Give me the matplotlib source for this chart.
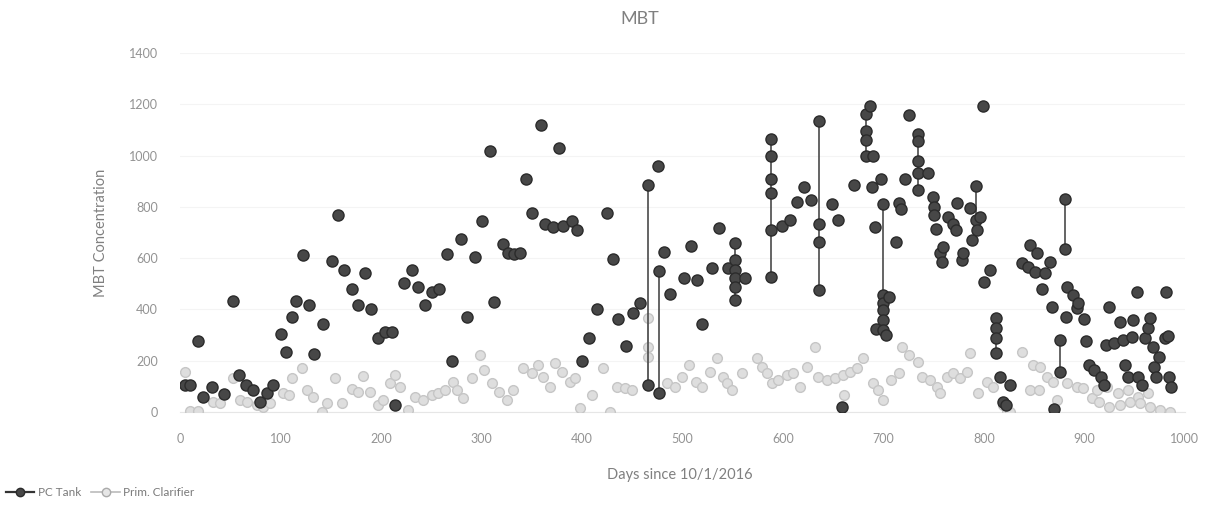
import numpy as np
import matplotlib.pyplot as plt
from matplotlib.lines import Line2D

# PC Tank samples (days since 10/1/2016, MBT); repeated days are joined by a line
pc_days = [5, 10, 18, 23, 32, 44, 53, 59, 66, 73, 80, 87, 93, 101, 106, 112, 116, 122, 128, 133,
           142, 151, 157, 163, 171, 177, 184, 190, 197, 204, 211, 214, 223, 231, 237, 244, 251, 258,
           266, 271, 280, 286, 294, 301, 309, 313, 321, 326, 332, 338, 344, 350, 359, 363, 371, 377,
           381, 390, 395, 400, 407, 415, 425, 431, 436, 444, 451, 458,
           466, 466, 476, 477, 477, 482, 488, 502, 509, 515, 520, 529, 536, 545,
           552, 552, 552, 552, 552, 552, 562,
           588, 588, 588, 588, 588, 588, 599, 607, 614, 621, 628,
           636, 636, 636, 636, 649, 655, 659, 671,
           683, 683, 683, 683, 687, 689, 690, 692, 693, 698,
           700, 700, 700, 700, 700, 700, 703, 706, 713, 716, 718, 722, 726,
           734, 734, 734, 734, 734, 744, 749, 750, 750, 752, 756, 758, 759, 764, 769, 772, 773,
           778, 779, 786, 788, 792, 792, 793, 796, 799, 800, 806,
           812, 812, 812, 812, 816, 819, 822, 826, 838, 844, 846, 851, 853, 858, 861, 866, 868, 870,
           876, 876, 881, 881, 882, 883, 889, 893, 894, 900, 902, 905, 910, 917, 920, 922, 925,
           930, 935, 938, 940, 943, 947, 948, 952, 953, 957, 960, 963, 965, 968, 969, 971, 974,
           980, 981, 983, 984, 986]
pc_vals = [105, 105, 276, 58, 97, 70, 432, 144, 105, 86, 39, 74, 105, 303, 233, 370, 432, 611, 416, 226,
           342, 588, 767, 553, 479, 416, 541, 401, 288, 311, 311, 27, 502, 553, 486, 416, 467, 479,
           615, 198, 673, 370, 603, 743, 1019, 428, 654, 619, 615, 619, 907, 778, 1121, 732, 720, 1031,
           724, 743, 708, 198, 288, 401, 778, 595, 362, 257, 385, 424,
           887, 105, 961, 549, 74, 623, 459, 521, 646, 514, 342, 560, 716, 560,
           658, 591, 553, 521, 486, 436, 521,
           1066, 1000, 910, 856, 708, 525, 724, 747, 821, 879, 825,
           1136, 735, 661, 475, 813, 747, 20, 887,
           1163, 1097, 1062, 1000, 1194, 879, 1000, 720, 323, 910,
           813, 455, 424, 397, 358, 319, 300, 447, 661, 817, 790, 907, 1159,
           1086, 1058, 981, 934, 864, 934, 837, 798, 770, 712, 619, 584, 642, 759, 735, 708, 817,
           591, 619, 794, 669, 883, 747, 708, 759, 1194, 506, 553,
           366, 327, 288, 230, 136, 39, 25, 105, 580, 564, 650, 545, 619, 479, 541, 584, 409, 10,
           280, 156, 829, 634, 370, 486, 455, 405, 424, 362, 276, 183, 163, 136, 105, 261, 409,
           268, 350, 280, 183, 136, 292, 358, 467, 136, 105, 288, 327, 366, 253, 175, 136, 214,
           288, 467, 296, 136, 97]

# Primary clarifier samples
pr_days = [5, 10, 18, 33, 40, 53, 60, 67, 77, 83, 90, 103, 109, 112, 121, 126, 132, 141, 146, 154,
           161, 171, 177, 182, 189, 197, 202, 209, 214, 219, 227, 234, 242, 251, 257, 264, 272, 276,
           282, 291, 299, 303, 311, 318, 325, 331, 341, 350, 356, 361, 368, 373, 380, 388, 393, 398,
           410, 421, 428, 435, 443, 450, 466, 466, 466, 466, 485, 493, 500, 507, 514, 520, 527, 534,
           540, 544, 549, 559, 574, 579, 584, 589, 595, 604, 610, 617, 624, 632, 635, 644, 652, 660,
           661, 667, 674, 680, 690, 695, 700, 708, 716, 719, 726, 734, 738, 746, 753, 756, 763, 769,
           776, 783, 786, 794, 803, 809, 819, 823, 826, 838, 846, 849, 855, 856, 863, 869, 873, 883,
           893, 899, 908, 913, 915, 923, 925, 933, 935, 943, 945, 953, 955, 963, 965, 975, 985]
pr_vals = [156, 4, 4, 39, 35, 132, 47, 39, 27, 19, 35, 74, 66, 132, 171, 86, 58, 0, 35, 132,
           35, 89, 78, 140, 78, 27, 47, 113, 144, 97, 8, 58, 47, 66, 74, 86, 117, 86,
           54, 132, 222, 163, 113, 78, 47, 86, 171, 152, 183, 136, 97, 191, 156, 117, 132, 16,
           66, 171, 0, 97, 93, 86, 366, 253, 214, 105, 113, 97, 136, 183, 117, 97, 156, 210,
           136, 113, 86, 152, 210, 175, 152, 113, 125, 144, 152, 97, 175, 253, 136, 125, 132, 144,
           66, 156, 171, 210, 113, 86, 47, 125, 152, 253, 222, 195, 136, 125, 97, 74, 136, 152,
           132, 156, 230, 74, 117, 97, 27, 0, 0, 233, 86, 183, 86, 175, 136, 117, 47, 113,
           97, 93, 54, 86, 39, 97, 19, 74, 27, 86, 39, 58, 35, 74, 19, 8, 0]

y_ticks = [0, 200, 400, 600, 800, 1000, 1200, 1400]
x_ticks = [0, 100, 200, 300, 400, 500, 600, 700, 800, 900, 1000]


def same_day_runs(days, vals):
    # break the line wherever the day changes, so only same-day samples are joined
    xs, ys = [], []
    prev = None
    for d, v in zip(days, vals):
        if prev is not None and d != prev:
            xs.append(np.nan)
            ys.append(np.nan)
        xs.append(d)
        ys.append(v)
        prev = d
    return xs, ys


plt.rcParams['font.family'] = ['Lato', 'DejaVu Sans']

fig = plt.figure(figsize=(12.24, 5.11), dpi=100)
ax = fig.add_axes([0.147, 0.194, 0.821, 0.702])

pc_dark = '#474747'
pr_light = '#dedede'

x, y = same_day_runs(pr_days, pr_vals)
ax.plot(x, y, color='#d0d0d0', lw=1.1, zorder=2)
ax.plot(pr_days, pr_vals, ls='none', marker='o', ms=7, mfc=pr_light, mec='#c6c6c6', mew=1, zorder=3)

x, y = same_day_runs(pc_days, pc_vals)
ax.plot(x, y, color='#4a4a4a', lw=1.2, zorder=4)
ax.plot(pc_days, pc_vals, ls='none', marker='o', ms=8, mfc=pc_dark, mec='#2b2b2b', mew=1, zorder=5)

ax.set_xlim(0, 1000)
ax.set_ylim(0, 1400)
ax.set_xticks(x_ticks)
ax.set_yticks(y_ticks)
ax.tick_params(length=0, labelsize=9, colors='#939393')
ax.tick_params(axis='y', pad=16)
ax.tick_params(axis='x', pad=15)
for s in ['top', 'right', 'left']:
    ax.spines[s].set_visible(False)
ax.spines['bottom'].set_color('#e6e6e6')
ax.grid(axis='y', color='#f4f4f4', lw=0.8)
ax.set_axisbelow(True)

ax.set_ylabel('MBT Concentration', fontsize=10.5, color='#808080')
ax.yaxis.set_label_coords(-0.072, 0.5)
ax.set_xlabel('Days since 10/1/2016', fontsize=10.5, color='#808080')
ax.xaxis.set_label_coords(0.497, -0.156)

fig.text(0.523, 0.963, 'MBT', ha='center', va='center', fontsize=13, color='#808080')

handles = [Line2D([], [], color='#333333', lw=1.6, marker='o', ms=6, mfc=pc_dark, mec='#2b2b2b'),
           Line2D([], [], color='#bbbbbb', lw=1.2, marker='o', ms=6, mfc='#e6e6e6', mec='#aaaaaa')]
fig.legend(handles, ['PC Tank', 'Prim. Clarifier'], loc='lower left', bbox_to_anchor=(-0.004, 0.005),
           ncol=2, frameon=False, fontsize=8.5, handlelength=2.4, handletextpad=0.3,
           columnspacing=0.9, labelcolor='#7a7a7a')

fig.savefig('out.png', dpi=100)
